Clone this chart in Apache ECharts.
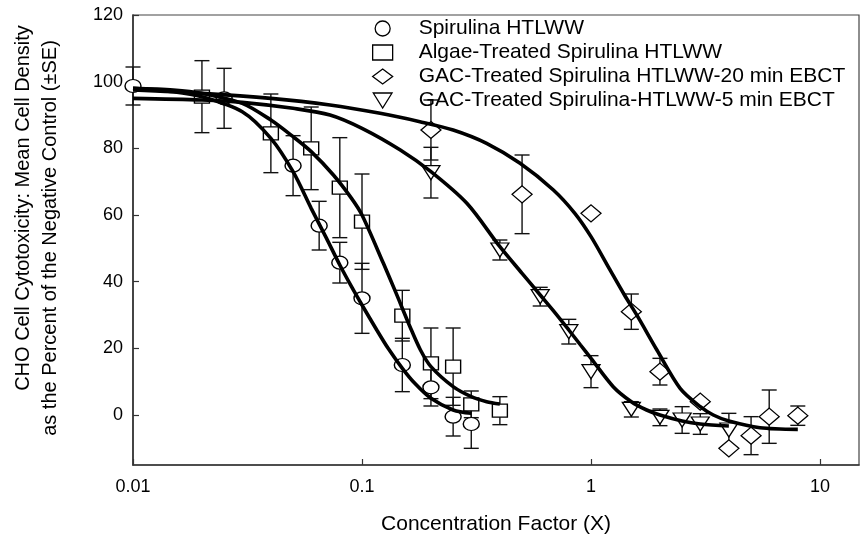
<!DOCTYPE html>
<html>
<head>
<meta charset="utf-8">
<script src="https://cdn.jsdelivr.net/npm/echarts@6/dist/echarts.min.js"></script>
<style>
html,body{margin:0;padding:0;background:#fff;}
#chart{width:864px;height:542px;}
</style>
</head>
<body>
<div id="chart"></div>
<script>
// ---- data ----
const seriesNames = [
  'Spirulina HTLWW',
  'Algae-Treated Spirulina HTLWW',
  'GAC-Treated Spirulina HTLWW-20 min EBCT',
  'GAC-Treated Spirulina-HTLWW-5 min EBCT'
];
const xTickLabels = ['0.01', '0.1', '1', '10'];
const yTickValues = [0, 20, 40, 60, 80, 100, 120];

// Spirulina HTLWW (circles)
const circleX   = [0.01, 0.025, 0.05, 0.065, 0.08, 0.1, 0.15, 0.2, 0.25, 0.3];
const circleY   = [98.7, 95, 74.8, 56.8, 45.7, 35, 15, 8.3, -0.5, -2.7];
const circleErr = [5.7, 9, 9, 7.3, 6.1, 10.5, 8, 5.6, 5.8, 7.3];

// Algae-Treated (squares)
const squareX   = [0.02, 0.04, 0.06, 0.08, 0.1, 0.15, 0.2, 0.25, 0.3, 0.4];
const squareY   = [95.5, 84.5, 80, 68.2, 58, 29.8, 15.5, 14.5, 3.2, 1.3];
const squareErr = [10.8, 11.8, 12.4, 15, 14.3, 7.6, 10.6, 11.6, 4, 4.2];

// GAC 20 min (diamonds)
const diamondX   = [0.2, 0.5, 1, 1.5, 2, 3, 4, 5, 6, 8];
const diamondY   = [85.5, 66.2, 60.5, 31, 13, 4, -10, -6.2, -0.5, -0.2];
const diamondErr = [9, 11.8, 0, 5.3, 4, 0, 0, 5.7, 8, 2.9];

// GAC 5 min (down triangles)
const triX   = [0.2, 0.4, 0.6, 0.8, 1, 1.5, 2, 2.5, 3, 4];
const triY   = [72.7, 49.5, 35.5, 25, 13, 1.7, -0.7, -1.5, -2.7, -4.5];
const triErr = [7.6, 3, 2.8, 3.7, 4.8, 2.3, 2.5, 4, 3.1, 5];

// fitted curves
const fitCircleX = [0.01, 0.015, 0.02, 0.03, 0.04, 0.05, 0.06, 0.07, 0.08, 0.09, 0.1, 0.116, 0.13, 0.15, 0.17, 0.2, 0.25, 0.3];
const fitCircleY = [98, 97, 95.5, 91, 83, 73, 62, 53, 45, 38.5, 33, 25.5, 20, 14, 9.5, 5, 1.5, 0.5];

const fitSquareX = [0.01, 0.015, 0.02, 0.03, 0.04, 0.05, 0.06, 0.075, 0.09, 0.1, 0.124, 0.14, 0.162, 0.18, 0.2, 0.25, 0.3, 0.35, 0.4];
const fitSquareY = [98, 97.5, 96.5, 93.5, 88.5, 83.5, 79, 72, 65, 60, 45.5, 37, 26.5, 19.5, 14.5, 8.5, 5.5, 4, 3.3];

const fitDiamondX = [0.01, 0.02, 0.04, 0.0725, 0.12, 0.179, 0.25, 0.35, 0.49, 0.685, 0.85, 1.0, 1.2, 1.4, 1.6, 1.94, 2.45, 3.0, 3.42, 4.0, 5.47, 8.0];
const fitDiamondY = [97.5, 96.5, 95, 93, 90.5, 88, 85.5, 81.5, 75.5, 67.5, 60.5, 53.5, 44, 36, 29.5, 19.5, 8, 2.5, 0, -1.8, -3.8, -4.3];

const fitTriX = [0.01, 0.02, 0.03, 0.05, 0.0725, 0.1, 0.147, 0.2, 0.287, 0.4, 0.5, 0.6, 0.7, 0.8, 0.9, 1.0, 1.25, 1.5, 1.75, 2.0, 2.5, 3.0, 4.0];
const fitTriY = [95, 94.5, 93.8, 92, 90, 86, 79.5, 73, 63.5, 50.5, 42.5, 36, 30.5, 25.5, 21, 17, 8.5, 4, 1.5, 0, -1.8, -2.7, -3.3];

// ---- build ----
const FONT = '"Liberation Sans", Arial, sans-serif';
const zip = (a, b) => a.map((v, i) => [v, b[i]]);
const zip3 = (a, b, c) => a.map((v, i) => [v, b[i], c[i]]);
const triPath = 'path://M0,0L20,0L10,16Z';

const symbols = ['circle', 'rect', 'diamond', triPath];
const sizes = [[16, 13], [15, 13], [20, 17], [18, 14]];
const pts = [zip(circleX, circleY), zip(squareX, squareY), zip(diamondX, diamondY), zip(triX, triY)];
const errs = [zip3(circleX, circleY, circleErr), zip3(squareX, squareY, squareErr),
              zip3(diamondX, diamondY, diamondErr), zip3(triX, triY, triErr)];
const fits = [zip(fitCircleX, fitCircleY), zip(fitSquareX, fitSquareY),
              zip(fitDiamondX, fitDiamondY), zip(fitTriX, fitTriY)];

function errRender(params, api) {
  const x = api.value(0), y = api.value(1), e = api.value(2);
  if (!e) return { type: 'group', children: [] };
  const t = api.coord([x, y + e]);
  const b = api.coord([x, y - e]);
  const hw = 7.5;
  const st = { stroke: '#111', lineWidth: 1.4 };
  return {
    type: 'group',
    children: [
      { type: 'line', shape: { x1: t[0], y1: t[1], x2: b[0], y2: b[1] }, style: st },
      { type: 'line', shape: { x1: t[0] - hw, y1: t[1], x2: t[0] + hw, y2: t[1] }, style: st },
      { type: 'line', shape: { x1: b[0] - hw, y1: b[1], x2: b[0] + hw, y2: b[1] }, style: st }
    ]
  };
}

const series = [];
for (let i = 0; i < 4; i++) {
  series.push({
    type: 'custom', name: 'err' + i, renderItem: errRender, data: errs[i],
    encode: { x: 0, y: 1 }, z: 2, silent: true, clip: false
  });
}
for (let i = 0; i < 4; i++) {
  series.push({
    type: 'scatter', name: seriesNames[i], data: pts[i],
    symbol: symbols[i], symbolSize: sizes[i],
    itemStyle: { color: '#fff', borderColor: '#000', borderWidth: 1.3, opacity: 1 },
    z: 3, silent: true
  });
}
for (let i = 0; i < 4; i++) {
  series.push({
    type: 'line', name: 'fit' + i, data: fits[i], showSymbol: false, symbol: 'none',
    smooth: 0.3, lineStyle: { color: '#000', width: 3.6 }, z: 4, silent: true
  });
}

const chart = echarts.init(document.getElementById('chart'), null, { renderer: 'canvas' });
chart.setOption({
  animation: false,
  backgroundColor: '#fff',
  textStyle: { fontFamily: FONT },
  grid: { left: 133, right: 5, top: 15, bottom: 77, show: true, borderColor: '#444', borderWidth: 1.2, backgroundColor: 'transparent' },
  legend: {
    data: seriesNames.map((n, i) => ({ name: n, icon: symbols[i] })),
    orient: 'vertical', left: 372, top: 18, padding: 0,
    itemWidth: 20, itemHeight: 15, itemGap: 3,
    textStyle: { fontFamily: FONT, fontSize: 21, color: '#000', lineHeight: 16, padding: [0, 0, 0, 21] },
    itemStyle: { color: '#fff', borderColor: '#000', borderWidth: 1.3 },
    selectedMode: false
  },
  xAxis: {
    type: 'log', logBase: 10, min: 0.01, max: 14.8,
    name: 'Concentration Factor (X)', nameLocation: 'middle', nameGap: 49,
    nameTextStyle: { fontFamily: FONT, fontSize: 21, color: '#000' },
    axisLine: { onZero: false, lineStyle: { color: '#333', width: 1.6 } },
    axisTick: { inside: true, length: 6, lineStyle: { color: '#333', width: 1.2 } },
    minorTick: { show: false },
    axisLabel: {
      fontFamily: FONT, fontSize: 18, color: '#000', margin: 13, showMaxLabel: false,
      formatter: (v) => { const k = Math.round(Math.log10(v)) + 2; return xTickLabels[k] || ''; }
    },
    splitLine: { show: false }
  },
  yAxis: {
    type: 'value', min: -15, max: 120,
    axisLine: { onZero: false, lineStyle: { color: '#333', width: 1.6 } },
    axisTick: { inside: true, length: 6, customValues: yTickValues, lineStyle: { color: '#333', width: 1.2 } },
    axisLabel: { fontFamily: FONT, fontSize: 18, color: '#000', margin: 10, customValues: yTickValues },
    splitLine: { show: false }
  },
  graphic: [
    { type: 'text', x: 23, y: 208, rotation: Math.PI / 2,
      style: { text: 'CHO Cell Cytotoxicity: Mean Cell Density', font: '20px ' + FONT, fill: '#000', textAlign: 'center', textVerticalAlign: 'middle' } },
    { type: 'text', x: 50, y: 238, rotation: Math.PI / 2,
      style: { text: 'as the Percent of the Negative Control (±SE)', font: '20px ' + FONT, fill: '#000', textAlign: 'center', textVerticalAlign: 'middle' } }
  ],
  series: series
});
</script>
</body>
</html>
